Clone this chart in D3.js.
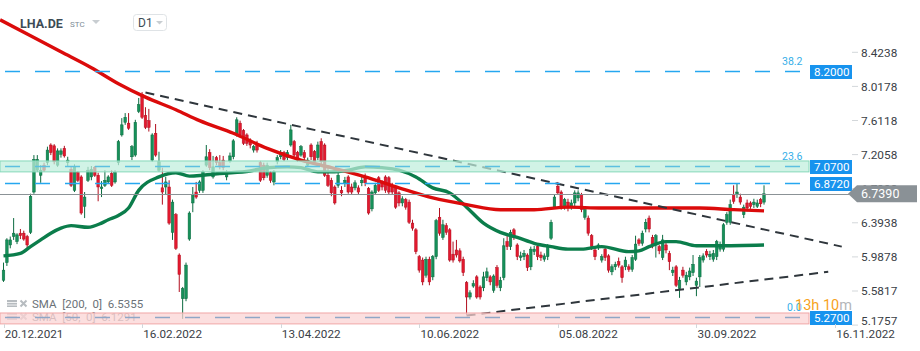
<!DOCTYPE html>
<html>
<head>
<meta charset="utf-8">
<title>LHA.DE D1</title>
<script src="https://cdn.jsdelivr.net/npm/d3@7/dist/d3.min.js"></script>
<style>
  body { margin: 0; background: #fff; }
  svg { display: block; font-family: Roboto, "Noto Sans", sans-serif; }
</style>
</head>
<body>
<div id="container"></div>
<script>
// Données (cours journaliers LHA.DE)
// Bougies : [open, high, low, close], une par séance, depuis le 20.12.2021
const candles = [
  [5.71,5.92,5.69,5.83],[5.92,6.21,5.88,6.19],[6.13,6.23,6.09,6.19],[6.23,6.45,6.19,6.27],[6.17,6.27,6.14,6.25],
  [6.27,6.32,6.20,6.24],[6.27,6.30,6.18,6.20],[6.23,6.25,6.08,6.13],[6.28,6.74,6.26,6.71],[6.76,7.20,6.74,7.15],
  [7.02,7.20,7.00,7.15],[6.96,7.08,6.87,7.02],[7.08,7.11,7.00,7.02],[7.11,7.30,7.08,7.26],[7.32,7.34,7.20,7.23],
  [7.31,7.33,7.09,7.12],[7.08,7.28,7.06,7.25],[7.21,7.28,7.17,7.25],[7.28,7.31,7.17,7.19],[7.11,7.18,7.07,7.14],
  [7.03,7.06,6.82,6.84],[6.78,7.09,6.76,7.06],[6.99,7.01,6.88,6.90],[6.94,6.96,6.49,6.51],[6.59,6.76,6.45,6.70],
  [6.90,7.06,6.88,7.02],[6.94,7.07,6.90,7.03],[7.05,7.07,6.94,6.96],[6.96,6.99,6.65,6.82],[6.80,6.89,6.70,6.82],
  [6.84,7.02,6.82,6.90],[6.88,6.96,6.86,6.94],[6.98,7.02,6.82,6.84],[6.88,7.02,6.86,6.99],[7.11,7.38,7.08,7.36],
  [7.44,7.64,7.42,7.56],[7.59,7.70,7.56,7.65],[7.58,7.70,7.50,7.52],[7.18,7.32,7.14,7.30],[7.20,7.62,7.18,7.59],
  [7.72,7.88,7.70,7.80],[7.92,7.95,7.63,7.65],[7.67,7.77,7.51,7.53],[7.61,7.75,7.48,7.53],[7.14,7.46,7.12,7.44],
  [7.46,7.57,7.18,7.20],[7.02,7.24,7.00,7.12],[6.81,7.05,6.61,6.76],[6.82,6.94,6.73,6.88],[6.82,6.90,6.37,6.39],
  [6.28,6.67,6.19,6.64],[6.49,6.51,6.07,6.09],[6.01,6.03,5.57,5.78],[5.49,5.63,5.25,5.61],[5.49,5.92,5.46,5.89],
  [6.20,6.53,6.18,6.51],[6.63,6.82,6.52,6.73],[6.76,6.88,6.68,6.70],[6.78,6.90,6.75,6.88],[6.78,7.02,6.75,7.00],
  [7.08,7.32,7.06,7.18],[7.23,7.27,7.02,7.05],[6.94,7.19,6.92,7.06],[7.17,7.19,7.08,7.11],[7.11,7.20,7.03,7.06],
  [7.14,7.19,7.02,7.05],[6.94,7.02,6.90,6.99],[7.13,7.23,7.11,7.19],[7.18,7.39,7.15,7.37],[7.44,7.65,7.42,7.62],
  [7.58,7.61,7.42,7.44],[7.49,7.51,7.32,7.34],[7.44,7.46,7.31,7.34],[7.38,7.40,7.28,7.32],[7.26,7.32,7.23,7.30],
  [7.34,7.37,7.23,7.26],[7.11,7.13,6.88,6.90],[7.08,7.11,6.90,6.93],[6.96,7.11,6.93,7.08],[6.99,7.01,6.87,6.90],
  [6.88,7.02,6.84,7.00],[7.12,7.20,7.09,7.17],[7.18,7.26,7.15,7.23],[7.23,7.25,7.13,7.15],[7.17,7.26,7.14,7.23],
  [7.32,7.56,7.30,7.50],[7.36,7.38,7.18,7.20],[7.23,7.25,7.12,7.14],[7.20,7.32,7.18,7.30],[7.23,7.26,7.14,7.17],
  [7.08,7.17,7.06,7.14],[7.32,7.34,7.14,7.18],[7.24,7.26,7.09,7.12],[7.17,7.36,7.14,7.32],[7.36,7.40,7.09,7.12],
  [7.32,7.34,6.94,6.96],[6.96,7.05,6.82,6.84],[6.90,6.93,6.71,6.75],[6.82,6.84,6.61,6.63],[6.84,6.99,6.81,6.96],
  [6.78,6.83,6.71,6.75],[6.86,6.94,6.82,6.90],[6.94,6.96,6.74,6.76],[6.82,6.86,6.73,6.76],[6.81,6.90,6.78,6.87],
  [6.81,6.84,6.73,6.76],[6.87,6.94,6.83,6.90],[6.94,6.98,6.83,6.87],[6.80,6.82,6.49,6.51],[6.56,6.78,6.53,6.76],
  [6.75,6.87,6.73,6.84],[6.93,6.95,6.76,6.78],[6.88,6.90,6.78,6.82],[6.94,6.96,6.75,6.78],[6.93,6.95,6.73,6.76],
  [6.84,6.87,6.73,6.76],[6.81,6.83,6.56,6.58],[6.75,6.77,6.59,6.63],[6.63,6.71,6.59,6.68],[6.67,6.69,6.55,6.58],
  [6.64,6.67,6.38,6.40],[6.39,6.43,6.30,6.33],[6.31,6.33,6.02,6.05],[5.99,6.01,5.80,5.83],[5.95,5.98,5.65,5.69],
  [5.77,5.99,5.74,5.96],[5.96,5.99,5.65,5.69],[5.75,6.01,5.71,5.99],[5.99,6.44,5.96,6.42],[6.46,6.57,6.24,6.27],
  [6.22,6.43,6.19,6.37],[6.36,6.39,6.25,6.28],[6.31,6.33,5.93,5.95],[6.02,6.17,5.92,5.95],[6.07,6.19,5.98,6.01],
  [6.06,6.09,5.92,5.94],[5.96,5.99,5.76,5.80],[5.68,5.70,5.30,5.51],[5.51,5.59,5.48,5.56],[5.64,5.71,5.62,5.67],
  [5.75,5.77,5.49,5.51],[5.63,5.65,5.48,5.51],[5.62,5.81,5.58,5.75],[5.74,5.86,5.70,5.81],[5.75,5.77,5.65,5.69],
  [5.59,5.78,5.56,5.76],[5.86,5.89,5.62,5.65],[5.62,5.75,5.58,5.71],[5.74,6.21,5.71,6.12],[6.17,6.26,6.07,6.11],
  [6.11,6.31,6.07,6.28],[6.31,6.33,6.19,6.22],[6.13,6.15,5.95,5.99],[5.98,6.05,5.94,6.00],[5.99,6.07,5.95,6.03],
  [6.01,6.03,5.82,5.86],[5.87,6.11,5.83,6.08],[6.05,6.12,6.01,6.08],[6.11,6.13,5.95,5.99],[6.01,6.05,5.94,5.98],
  [5.96,6.03,5.93,6.00],[5.99,6.14,5.95,6.12],[6.21,6.43,6.19,6.40],[6.58,6.73,6.56,6.70],[6.83,6.88,6.73,6.75],
  [6.76,6.78,6.55,6.58],[6.58,6.69,6.55,6.67],[6.64,6.68,6.53,6.57],[6.58,6.67,6.55,6.63],[6.63,6.78,6.59,6.75],
  [6.69,6.78,6.65,6.75],[6.73,6.75,6.52,6.55],[6.46,6.58,6.43,6.55],[6.45,6.48,6.24,6.27],[6.24,6.26,6.07,6.11],
  [6.07,6.09,5.95,5.99],[6.11,6.15,6.07,6.13],[5.95,6.02,5.92,5.99],[6.08,6.11,5.94,5.98],[6.00,6.02,5.80,5.83],
  [5.81,5.90,5.77,5.87],[5.87,5.93,5.83,5.90],[5.93,5.98,5.86,5.89],[5.87,5.89,5.68,5.74],[5.87,5.99,5.83,5.95],
  [5.87,5.90,5.81,5.84],[5.84,6.01,5.81,5.98],[5.96,6.24,5.94,6.14],[6.19,6.21,6.12,6.15],[6.15,6.30,6.12,6.27],
  [6.32,6.44,6.28,6.40],[6.45,6.48,6.28,6.32],[6.22,6.25,6.09,6.13],[6.13,6.26,5.98,6.24],[6.11,6.13,6.02,6.06],
  [5.98,6.25,5.95,6.19],[6.13,6.17,6.03,6.07],[6.03,6.06,5.83,5.93],[5.80,5.87,5.76,5.83],[5.87,5.89,5.63,5.65],
  [5.61,5.75,5.50,5.71],[5.83,5.87,5.74,5.77],[5.69,5.81,5.65,5.77],[5.75,5.86,5.71,5.82],[5.80,6.01,5.76,5.90],
  [5.65,5.74,5.52,5.70],[5.75,6.01,5.63,5.98],[5.95,6.03,5.92,6.00],[6.05,6.08,5.98,6.01],[5.99,6.06,5.95,6.02],
  [5.96,6.07,5.93,6.03],[5.99,6.19,5.95,6.17],[6.08,6.17,6.05,6.13],[6.08,6.39,6.05,6.37],[6.40,6.52,6.37,6.49],
  [6.40,6.67,6.37,6.61],[6.73,6.84,6.62,6.65],[6.73,6.86,6.69,6.76],[6.70,6.74,6.61,6.64],[6.49,6.61,6.45,6.58],
  [6.63,6.67,6.53,6.57],[6.63,6.65,6.56,6.59],[6.61,6.68,6.57,6.64],[6.59,6.67,6.57,6.63],[6.67,6.69,6.58,6.62],
  [6.64,6.84,6.61,6.739]
];

// Moyennes mobiles : [index de séance, valeur]
const sma200 = [
  [-1,8.81],[8,8.62],[17,8.43],[26,8.24],[34,8.05],[42,7.89],[51,7.74],[58,7.61],[68,7.46],[78,7.28],
  [88,7.14],[97,7.05],[107,6.94],[117,6.81],[127,6.69],[137,6.61],[147,6.55],[157,6.55],[167,6.58],
  [177,6.57],[186,6.57],[196,6.57],[206,6.57],[216,6.55],[225,6.5355]
];
const sma50 = [
  [0,6.00],[5,6.03],[8,6.11],[11,6.19],[14,6.27],[17,6.33],[20,6.36],[25,6.34],[29,6.39],[31,6.43],
  [34,6.48],[37,6.57],[40,6.78],[46,6.94],[51,6.99],[55,6.95],[59,6.96],[64,6.98],[73,7.01],[78,7.05],
  [84,7.06],[88,7.05],[93,7.00],[97,7.00],[102,7.02],[107,7.06],[112,7.05],[117,7.02],[122,6.94],
  [127,6.81],[132,6.75],[137,6.58],[142,6.39],[147,6.28],[152,6.22],[157,6.15],[162,6.11],[167,6.08],
  [171,6.08],[177,6.11],[185,6.05],[188,6.06],[191,6.11],[196,6.17],[199,6.17],[205,6.12],[211,6.12],
  [225,6.1291]
];

// Lignes de tendance (pointillés noirs) : [[index, prix], [index, prix]]
const trendLines = [
  [[42,7.945],[248,6.11]],
  [[137,5.29],[244,5.81]]
];

// Niveaux horizontaux (Fibonacci) et zones
const levels = [8.2, 7.07, 6.872, 5.27];
const levelLabels = ["8.2000", "7.0700", "6.8720", "5.2700"];
const fibLabels = ["38.2", "23.6", "", "0.0"];
const zones = [[7.0, 7.13], [5.19, 5.32]];
const zoneColors = ["#bfeedd", "#fbd3d3"];
const zoneStrokes = ["#86d8ba", "#f1a7a7"];
const lastPrice = 6.739;

// Axes
const yTicks = [8.4238, 8.0178, 7.6118, 7.2058, 6.7998, 6.3938, 5.9878, 5.5817, 5.1757];
const dateLabels = ["20.12.2021", "16.02.2022", "13.04.2022", "10.06.2022", "05.08.2022", "30.09.2022", "16.11.2022"];
const dateIndex = [0, 41, 82, 123, 164, 205, 246];

const width = 920, height = 351;
const plotRight = 851;
const levelEnd = 809;

const svg = d3.select("#container").append("svg")
    .attr("width", width)
    .attr("height", height);

const x = d3.scaleLinear().domain([0, 246]).range([3.5, 835]);
const y = d3.scaleLinear().domain([5.1757, 8.4238]).range([325.1, 52.3]);

const upCol = "#16915a", upEdge = "#0c6b40";
const downCol = "#e3192f", downEdge = "#b10e1e";

svg.append("clipPath").attr("id", "plot")
   .append("rect").attr("x", 0).attr("y", 0).attr("width", plotRight).attr("height", 326);

const plot = svg.append("g").attr("clip-path", "url(#plot)");

// Bougies
const bars = plot.append("g").selectAll("g")
    .data(candles)
    .join("g");

bars.append("line")
    .attr("x1", (d, i) => x(i)).attr("x2", (d, i) => x(i))
    .attr("y1", d => y(d[1])).attr("y2", d => y(d[2]))
    .attr("stroke", d => d[3] >= d[0] ? upEdge : downEdge)
    .attr("stroke-width", 1);

bars.append("rect")
    .attr("x", (d, i) => x(i) - 1.3)
    .attr("width", 2.6)
    .attr("y", d => y(Math.max(d[0], d[3])))
    .attr("height", d => Math.max(1, Math.abs(y(d[0]) - y(d[3]))))
    .attr("fill", d => d[3] >= d[0] ? upCol : downCol)
    .attr("stroke", d => d[3] >= d[0] ? upEdge : downEdge)
    .attr("stroke-width", 0.5);

// Moyennes mobiles
const line = d3.line()
    .x(d => x(d[0]))
    .y(d => y(d[1]))
    .curve(d3.curveMonotoneX);

plot.append("path").datum(sma50)
    .attr("d", line).attr("fill", "none")
    .attr("stroke", "#0b7d4b").attr("stroke-width", 3.4)
    .attr("stroke-linejoin", "round");

plot.append("path").datum(sma200)
    .attr("d", line).attr("fill", "none")
    .attr("stroke", "#db0b0b").attr("stroke-width", 3.4)
    .attr("stroke-linejoin", "round");

// Lignes de tendance
plot.selectAll(".trend")
    .data(trendLines)
    .join("line")
    .attr("class", "trend")
    .attr("x1", d => x(d[0][0])).attr("y1", d => y(d[0][1]))
    .attr("x2", d => x(d[1][0])).attr("y2", d => y(d[1][1]))
    .attr("stroke", "#2f363c")
    .attr("stroke-width", 2)
    .attr("stroke-dasharray", "9,6");

// Légende SMA (en bas à gauche)
const legend = svg.append("g");
const legendItems = ["SMA  [200,  0]  6.5355", "SMA  [50,  0]  6.1291"];
legendItems.forEach((t, k) => {
    const ly = 304 + k * 13;
    const g = legend.append("g").attr("opacity", k === 0 ? 1 : 0.85);
    g.append("rect").attr("x", 7).attr("y", ly - 4).attr("width", 10).attr("height", 7)
     .attr("fill", "#b7bcc0");
    [0, 2.5].forEach(dy => g.append("line")
        .attr("x1", 7).attr("x2", 17).attr("y1", ly - 1.5 + dy).attr("y2", ly - 1.5 + dy)
        .attr("stroke", "#fff").attr("stroke-width", 0.8));
    g.append("path")
     .attr("d", `M20.5,${ly - 3.5} L26.5,${ly + 2.5} M26.5,${ly - 3.5} L20.5,${ly + 2.5}`)
     .attr("stroke", "#b7bcc0").attr("stroke-width", 2);
    g.append("text").attr("x", 32).attr("y", ly + 4)
     .attr("font-size", 11.5).attr("fill", "#6b7278")
     .attr("xml:space", "preserve")
     .text(t);
});

// Zones
svg.selectAll(".zone")
    .data(zones)
    .join("rect")
    .attr("class", "zone")
    .attr("x", 0)
    .attr("width", levelEnd)
    .attr("y", d => y(d[1]))
    .attr("height", d => y(d[0]) - y(d[1]))
    .attr("fill", (d, i) => zoneColors[i])
    .attr("fill-opacity", 0.72)
    .attr("stroke", (d, i) => zoneStrokes[i])
    .attr("stroke-width", 1);

// Niveaux en pointillés
const levelStroke = ["#25a7f0", "#5cc0e0", "#25a7f0", "#8fa6c6"];
svg.selectAll(".level")
    .data(levels)
    .join("line")
    .attr("class", "level")
    .attr("x1", 0).attr("x2", levelEnd)
    .attr("y1", d => Math.round(y(d)) + 0.5).attr("y2", d => Math.round(y(d)) + 0.5)
    .attr("stroke", (d, i) => levelStroke[i])
    .attr("stroke-width", 1.3)
    .attr("stroke-dasharray", "15,15")
    .attr("stroke-dashoffset", -5);

svg.selectAll(".fib")
    .data(levels)
    .join("text")
    .attr("class", "fib")
    .attr("x", (d, i) => i === 3 ? 787 : 782)
    .attr("y", d => y(d) - 6)
    .attr("font-size", 10.5)
    .attr("fill", "#35aee8")
    .text((d, i) => fibLabels[i]);

// Ligne du dernier cours
svg.append("line")
    .attr("x1", 0).attr("x2", 850)
    .attr("y1", Math.round(y(lastPrice)) + 0.5).attr("y2", Math.round(y(lastPrice)) + 0.5)
    .attr("stroke", "#8b9296").attr("stroke-width", 1);

// Axe des prix (droite)
const yAxis = svg.append("g");
yAxis.selectAll("line")
    .data(yTicks)
    .join("line")
    .attr("x1", 852).attr("x2", 858)
    .attr("y1", d => y(d)).attr("y2", d => y(d))
    .attr("stroke", "#d3d7da");
yAxis.selectAll("text")
    .data(yTicks)
    .join("text")
    .attr("x", 861)
    .attr("y", d => Math.min(y(d), 320.5) + 4.2)
    .attr("font-size", 11.8)
    .attr("fill", "#3a4046")
    .text(d => d.toFixed(4));

// Étiquettes des niveaux
const boxes = svg.append("g").selectAll("g")
    .data(levels)
    .join("g")
    .attr("transform", d => `translate(810,${Math.round(y(d)) - 6})`);
boxes.append("rect")
    .attr("width", 42).attr("height", 14)
    .attr("fill", "#1793ee");
boxes.append("text")
    .attr("x", 4).attr("y", 11)
    .attr("font-size", 11.6)
    .attr("fill", "#fff")
    .text((d, i) => levelLabels[i]);

// Étiquette du dernier cours
const ly0 = y(lastPrice);
svg.append("path")
    .attr("d", `M848,${ly0} L857,${ly0 - 8.5} L917,${ly0 - 8.5} L917,${ly0 + 8.5} L857,${ly0 + 8.5} Z`)
    .attr("fill", "#8a9196");
svg.append("text")
    .attr("x", 861).attr("y", ly0 + 4.5)
    .attr("font-size", 12.5)
    .attr("fill", "#fff")
    .text(lastPrice.toFixed(4));

// Compte à rebours
const cd = svg.append("text")
    .attr("x", 795).attr("y", 310)
    .attr("font-size", 14.5)
    .attr("fill", "#f7a21c");
cd.append("tspan").text("13h 10");
cd.append("tspan").attr("fill", "#b3b6b9").text("m");

// Axe des dates
const xAxis = svg.append("g");
xAxis.selectAll("line")
    .data(dateIndex)
    .join("line")
    .attr("x1", d => Math.round(x(d)) + 0.5).attr("x2", d => Math.round(x(d)) + 0.5)
    .attr("y1", 324).attr("y2", 328)
    .attr("stroke", "#d3d7da");
xAxis.selectAll("text")
    .data(dateIndex)
    .join("text")
    .attr("x", d => x(d) + 1.2)
    .attr("y", 337.5)
    .attr("font-size", 11.7)
    .attr("fill", "#3a4046")
    .text((d, i) => dateLabels[i]);

// En-tête
const head = svg.append("g");
head.append("text").attr("x", 20).attr("y", 27.5)
    .attr("font-size", 12.5).attr("font-weight", "bold").attr("fill", "#3d4b55")
    .text("LHA.DE");
head.append("text").attr("x", 70).attr("y", 26.5)
    .attr("font-size", 8).attr("fill", "#7d8c96")
    .text("STC");
head.append("path").attr("d", "M92,20 L100,20 L96,24 Z").attr("fill", "#c8cdd1");
head.append("rect").attr("x", 133.5).attr("y", 14.5).attr("width", 33).attr("height", 16).attr("rx", 3)
    .attr("fill", "#fff").attr("stroke", "#dfe3e6");
head.append("text").attr("x", 138).attr("y", 27)
    .attr("font-size", 12).attr("fill", "#3d4b55")
    .text("D1");
head.append("path").attr("d", "M156,21 L163,21 L159.5,24.5 Z").attr("fill", "#c8cdd1");
</script>
</body>
</html>
